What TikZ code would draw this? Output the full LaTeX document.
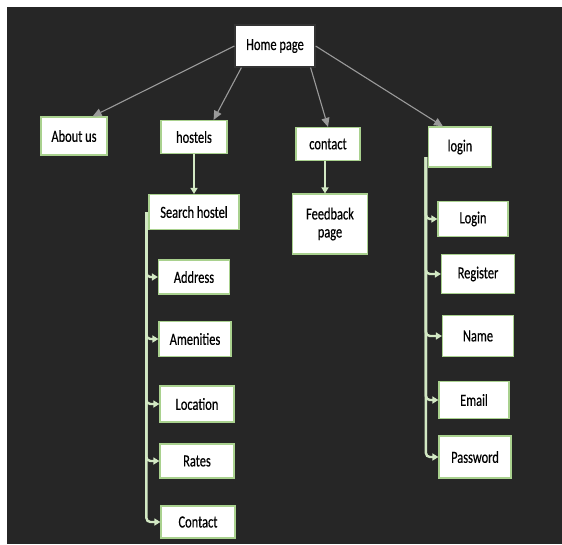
\documentclass[tikz,border=0pt]{standalone}
\usepackage{fontspec}
\setmainfont{Carlito}[FakeStretch=0.73,FakeBold=0.4]
\usetikzlibrary{arrows.meta}
\definecolor{bgdark}{HTML}{262626}
\definecolor{boxgreen}{HTML}{A9D18E}
\definecolor{linegreen}{HTML}{D2E8C3}
\definecolor{linegray}{HTML}{9A9A9A}
\tikzset{
  page/.style={draw=boxgreen, line width=1.2pt, fill=white, inner sep=0pt,
    font=\fontsize{17}{18}\selectfont, text=black, align=center},
  homearrow/.style={draw=linegray, line width=1.1pt,
    -{Triangle[width=8pt,length=9pt]}},
  subarrow/.style={draw=linegreen, line width=2.4pt,
    -{Triangle[width=7pt,length=6pt]}},
  branch/.style={draw=linegreen, line width=2.4pt, rounded corners=4pt,
    -{Triangle[width=7pt,length=6pt]}}
}
\begin{document}
\begin{tikzpicture}[x=1pt,y=-1pt]
    \useasboundingbox (0,0) rectangle (562,544);
    \fill [bgdark] (7,7) rectangle (562,544);
      \node [page, draw=black!80, minimum width=80pt, minimum height=42pt] (home) at (275,46) {Home page};
      \foreach \nm/\px/\py/\w/\h/\txt in {about/74/136/66/38/About us,
          hostels/194/137/66/33/hostels, contact/328/144/64/33/contact,
          login/460/147/63/40/login, search/194/212/90/35/Search hostel}
      \node [page, minimum width=\w pt, minimum height=\h pt] (\nm) at (\px,\py) {\txt};
      \node [page, minimum width=75pt, minimum height=60pt] (feedback) at (330,224) {Feedback\\page};
      \foreach \nm/\px/\py/\w/\h/\txt in {address/194/277/71/34/Address,
          amenities/195/339/72/35/Amenities, location/197/404/74/36/Location,
          rates/197/461/74/34/Rates, contactus/198/522/74/32/Contact,
          signin/473/219/70/35/Login, register/478/274/73/39/Register,
          name/478/336/71/41/Name, email/474/400/70/37/Email,
          password/475/457/72/42/Password}
      \node [page, minimum width=\w pt, minimum height=\h pt] (\nm) at (\px,\py) {\txt};
    \draw [homearrow] (home.west) to ([xshift=-15pt]about.north east);
    \draw [homearrow] ([xshift=7pt]home.south west) to ([xshift=-14pt]hostels.north east);
    \draw [homearrow] ([xshift=-5pt]home.south east) to (contact.north);
    \draw [homearrow] (home.east) to ([xshift=-17pt]login.north);
    \draw [subarrow] (hostels.south) to (search.north);
    \draw [subarrow] ([xshift=-3pt]contact.south) to ([xshift=-3pt]contact.south |- feedback.north);
    \coordinate (searchtrunk) at ([xshift=-2pt]search.west);
    \coordinate (logintrunk) at ([xshift=-2pt,yshift=-10pt]login.west);
      \foreach \nm in {address,amenities,location,rates,contactus}
      \draw [branch] (searchtrunk) |- (\nm.west);
      \foreach \nm in {signin,register,name,email,password}
      \draw [branch] (logintrunk) |- (\nm.west);
  \end{tikzpicture}
\end{document}
